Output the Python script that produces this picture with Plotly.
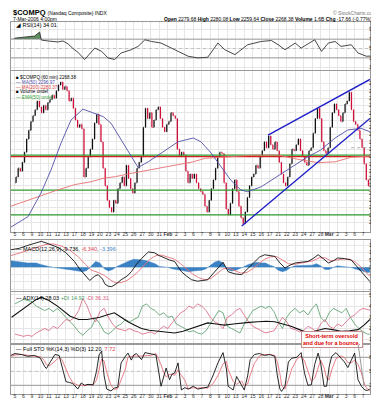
import plotly.graph_objects as go

# ---------------- data ----------------
day_labels = ["5", "6", "9", "10", "11", "12", "13", "17", "18", "19", "20", "23", "24", "25", "26",
              "27", "30", "31", "<b>Feb</b>", "2", "3", "6", "7", "8", "9", "10", "13", "14", "15",
              "16", "17", "21", "22", "23", "24", "27", "28", "<b>Mar</b>", "2", "3", "6", "7"]

first_open = 2262.0
# four intraday closes per session (60-min bars sampled)
closes = [
    2266, 2272, 2270, 2276,   2283, 2292, 2298, 2304,   2308, 2312, 2318, 2314,
    2310, 2315, 2312, 2317,   2319, 2322, 2320, 2325,   2329, 2331, 2326, 2328,
    2325, 2318, 2320, 2313,   2305, 2300, 2302, 2299,   2266, 2272, 2280, 2285,
    2292, 2303, 2309, 2302,   2290, 2272, 2260, 2250,   2245, 2242, 2250, 2248,
    2258, 2262, 2266, 2260,   2274, 2265, 2258, 2255,   2262, 2272, 2276, 2280,
    2300, 2313, 2306, 2310,   2300, 2305, 2312, 2314,   2306, 2300, 2297, 2302,
    2304, 2310, 2308, 2306,   2285, 2280, 2283, 2281,   2270, 2262, 2268, 2265,
    2268, 2262, 2258, 2256,   2254, 2246, 2242, 2250,   2258, 2264, 2272, 2280,
    2283, 2282, 2262, 2244,   2240, 2248, 2258, 2264,   2256, 2246, 2238, 2234,
    2242, 2252, 2260, 2266,   2268, 2274, 2272, 2280,   2284, 2290, 2286, 2294,
    2288, 2285, 2290, 2284,   2276, 2268, 2262, 2260,   2266, 2275, 2285, 2284,
    2288, 2292, 2284, 2280,   2276, 2274, 2284, 2286,   2296, 2306, 2313, 2306,
    2290, 2284, 2282, 2286,   2300, 2310, 2316, 2312,   2308, 2304, 2310, 2316,
    2318, 2324, 2312, 2304,   2302, 2298, 2292, 2286.04, 2275, 2264, 2260, 2268.38,
]

ma50_x = [-0.47, 1.53, 3.06, 4.24, 5.42, 6.6, 8.0, 8.95, 10.4, 11.3, 12.5, 13.7, 14.5, 15.7, 17.7,
          19.2, 21.0, 21.9, 23.1, 24.3, 25.4, 26.6, 27.4, 29.0, 30.6, 32.5, 34.2, 36.0, 37.7,
          39.2, 40.75, 41.8]
ma50_y = [2231.7, 2238.8, 2255.0, 2270.8, 2289.2, 2305.0, 2312.5, 2310.5, 2307.3, 2302.9, 2291.3,
          2279.7, 2272.5, 2276.4, 2284.5, 2290.1, 2292.7, 2290.1, 2282.4, 2273.0, 2263.9, 2257.1,
          2255.9, 2259.3, 2265.3, 2273.0, 2278.8, 2284.5, 2292.7, 2298.2, 2299.3, 2296.97]

ma200_x = [-0.47, 1.53, 3.06, 5.06, 7.07, 8.95, 10.4, 11.8, 13.7, 15.7, 17.7, 19.6, 21.0, 22.4,
           24.3, 26.3, 28.3, 31.0, 33.3, 35.7, 37.7, 39.6, 41.2, 41.8]
ma200_y = [2246.0, 2250.2, 2253.1, 2257.2, 2260.8, 2262.7, 2265.1, 2266.2, 2268.5, 2270.8, 2273.0,
           2275.3, 2276.4, 2278.8, 2279.5, 2280.3, 2281.0, 2281.0, 2278.1, 2275.8, 2276.4, 2279.5,
           2280.3, 2280.37]

support_green = [2281, 2257, 2240]
support_red = 2280
prev_close = 2286.04
upper_channel_x = [29.8, 41.8]
upper_channel_y = [2294.7, 2332.8]
lower_channel_x = [26.7, 41.8]
lower_channel_y = [2232.4, 2306.1]

rsi_x = [-0.04, 0.75, 1.53, 2.32, 2.9, 3.1, 3.9, 5.06, 5.65, 6.24, 6.83, 7.42, 8.2, 8.8, 9.4, 10.2,
         10.95, 11.74, 12.5, 13.7, 14.5, 15.3, 16.06, 17.2, 18.4, 19.2, 20.4, 21.55, 22.7, 23.9,
         24.7, 25.9, 26.7, 27.4, 29.0, 30.2, 31.0, 31.8, 33.0, 33.7, 35.3, 36.1, 36.9, 37.7, 38.4,
         39.6, 40.4, 41.4, 41.8]
rsi_y = [72, 73, 74, 76.5, 85, 68, 66, 64, 66, 60, 50, 42, 26.5, 40, 51, 44, 30, 26.5, 40.5, 47.5,
         54.5, 68.6, 65, 61.6, 51, 44, 33.5, 30, 31.4, 61.6, 47.5, 37, 47.5, 58, 65, 67, 58, 47.5,
         61.6, 51, 68.6, 44, 61.6, 65, 54.5, 58, 40.5, 33.5, 34.01]

macd_x = [-0.5, 0.5, 1.5, 2.5, 3.1, 4, 5.1, 6, 7, 7.6, 8.2, 8.8, 9.4, 9.8, 10.3, 10.6, 11.0, 11.4,
          12.0, 12.5, 13.2, 13.7, 14.3, 14.9, 15.7, 16.4, 17.0, 17.6, 18.2, 18.8, 19.6, 20.2, 20.8,
          21.5, 22.0, 22.7, 23.3, 23.9, 24.5, 25.1, 25.9, 26.7, 27.4, 28.2, 28.8, 29.4, 30.0, 30.6,
          31.2, 31.8, 32.4, 33.0, 33.7, 34.5, 35.1, 35.7, 36.3, 36.9, 37.5, 38.0, 38.8, 39.6, 40.2,
          40.8, 41.3, 41.8]
macd_y = [12, 13, 15, 17, 17.8, 16, 13.5, 10, 4, -1, -5, -9, -6, -5, -8, -11.5, -13, -13.2, -11,
          -8.5, -6, -3, 2, 6, 10.5, 10, 8, 6.4, 5, 4, -3, -6, -8.5, -9.5, -9, -8.5, -4.5, -0.5, 3.5,
          -3, -4.5, -5, -1, 4, 7, 8.6, 8, 7.5, 3, -0.5, 1.5, 3, 3.5, 4, 6, 8.6, 6, 3, 4.5, 6.4, 6, 5,
          1, -3, -7, -9.736]
signal_x = [-0.5, 0.5, 1.5, 2.5, 3.5, 4.5, 5.5, 6.5, 7.5, 8.3, 9.0, 9.8, 10.5, 11.2, 11.8, 12.5,
            13.2, 13.8, 14.5, 15.2, 15.9, 16.6, 17.3, 18.0, 18.8, 19.5, 20.2, 20.9, 21.6, 22.4, 23.1,
            23.8, 24.5, 25.2, 25.9, 26.6, 27.3, 28.0, 28.7, 29.4, 30.1, 30.8, 31.5, 32.2, 32.9,
            33.6, 34.4, 35.1, 35.8, 36.5, 37.2, 37.9, 38.6, 39.4, 40.1, 40.7, 41.3, 41.8]
signal_y = [8, 9.5, 11.5, 13.5, 15.5, 16, 14.5, 11.5, 7, 2, -2, -3.5, -5.5, -8.5, -10.5, -10.5, -9,
            -6.5, -3, 1.5, 5.5, 8, 8.3, 7, 5.5, 2.5, -1, -4.5, -7, -8.5, -7.5, -4.5, -1, -0.5, -2.5,
            -4, -3.5, -1, 2.5, 5.5, 7.2, 7.4, 5, 2.5, 2, 2.8, 3.5, 4.5, 6.5, 6.5, 4.5, 5, 5.6, 5.6,
            3.5, 0.5, -3, -6.34]
hist_vals = [4.5, 4, 3.5, 3.5, 3, 3, 3, 2, 1, 0.5, 0, -0.5, -1, -1.5, -1.5, -2.5, -2.5, -3, -2, 1,
             4, 3, -1, -2.5, -1.5, 0.5, 2, 3.5, 4.5, 5.5, 5.5, 5, 4.5, 3.5, 2.5, 0.5, 0.5, 0, -1,
             -1.5, -2.5, -3, -3, -2.5, -2.5, -2, -1, 1, 3.5, 4.5, 3, -1.5, -2.5, -2, -1, 0.5, 2, 3,
             3.5, 3, 3, 1.5, 0.5, -2, -3, -2, 0, 1, 1, 1, 1.5, 1.5, 2.5, 1, -1.5, -1.5, 0, 1, 0.5,
             0.5, 0, -1, -2, -3, -3.5, -3.396]

adx_x = [-0.4, 0.5, 1.5, 2.5, 3.1, 4.0, 5.0, 5.8, 6.5, 7.5, 8.5, 9.2, 10.0, 10.8, 11.7, 12.5, 13.3,
         14.1, 14.9, 15.8, 16.8, 17.8, 18.8, 19.8, 20.8, 21.8, 22.7, 23.7, 24.7, 25.7, 26.7, 27.6,
         28.6, 29.6, 30.6, 31.5, 32.5, 33.5, 34.5, 35.5, 36.5, 37.4, 38.4, 39.4, 40.4, 41.1, 41.8]
adx_y = [30, 35, 41, 46, 48, 45, 40, 35, 31, 28, 28, 29, 30, 32, 34, 30, 26, 23, 20, 18.5, 17.5, 17,
         16, 17.5, 20, 23, 25, 24, 23, 24, 25, 25.5, 26, 26.5, 26, 24, 22, 19, 16, 18, 20, 19, 17.5,
         18, 19, 23, 28.03]
pdi_y = [42, 44, 46, 45, 44, 40, 38, 36, 38, 35, 38, 34, 30, 26, 22, 17, 14, 18, 21, 29, 24, 17,
         15, 18, 22, 24, 28, 26, 28, 30, 40, 42, 38, 36, 32, 34, 30, 31, 24, 22, 20, 17, 18, 16, 15,
         18, 24, 30, 36, 34, 22, 20, 18, 16, 24, 30, 36, 38, 40, 38, 40, 35, 26, 20, 30, 35, 38, 34,
         36, 32, 38, 42, 30, 26, 34, 38, 36, 34, 38, 30, 24, 20, 17, 15, 14.92]
mdi_y = [15, 14, 13, 14, 13, 16, 18, 20, 18, 22, 20, 24, 28, 27, 30, 36, 47, 40, 30, 26, 35, 38, 30,
         24, 20, 19, 18, 20, 18, 17, 15, 16, 17, 15, 19, 22, 20, 25, 30, 34, 36, 40, 38, 42, 40, 36,
         30, 26, 24, 20, 30, 32, 36, 38, 32, 26, 22, 20, 18, 16, 17, 18, 24, 30, 26, 20, 19, 17, 18,
         22, 20, 17, 24, 28, 22, 20, 24, 22, 26, 30, 32, 36, 38, 37, 36.31]

sto_x = [-0.5, 0, 0.75, 1.5, 2.3, 3.0, 3.5, 3.7, 4.1, 4.7, 5.2, 5.5, 6.0, 6.4, 6.8, 7.4, 7.8, 8.2,
         8.6, 9.2, 9.6, 9.9, 10.2, 10.5, 10.8, 11.3, 11.7, 12.1, 12.5, 13.0, 13.3, 13.7, 14.0, 14.3,
         14.9, 15.3, 16.0, 16.6, 17.2, 17.5, 17.8, 18.2, 18.5, 18.8, 19.2, 19.6, 20.0, 20.4, 21.0,
         21.5, 22.0, 22.7, 23.3, 23.9, 24.5, 24.9, 25.1, 25.7, 26.1, 26.4, 26.7, 27.0, 27.4, 27.7,
         28.2, 28.8, 29.4, 30.0, 30.6, 30.9, 31.2, 31.4, 31.8, 32.2, 32.6, 33.2, 33.7, 34.1, 34.5,
         34.9, 35.3, 35.7, 36.0, 36.4, 36.7, 37.0, 37.3, 37.8, 38.4, 38.8, 39.2, 39.6, 40.0, 40.4,
         40.8, 41.2, 41.5, 41.8]
sto_k = [84, 88, 86, 82, 84, 78, 60, 56, 68, 86, 84, 62, 28, 26, 24, 12, 25, 20, 22, 21, 50, 85, 93,
         40, 12, 8, 14, 16, 68, 82, 89, 74, 85, 88, 75, 90, 88, 85, 18, 40, 57, 32, 44, 46, 68, 10,
         15, 12, 18, 12, 14, 16, 40, 68, 90, 55, 18, 10, 39, 30, 18, 10, 40, 75, 86, 88, 84, 86, 82,
         40, 12, 7, 18, 70, 78, 80, 90, 46, 20, 21, 65, 89, 68, 18, 18, 60, 82, 90, 78, 70, 58, 75,
         89, 32, 18, 10, 9, 12.2]
sto_d = [82, 85, 86, 84, 83, 81, 72, 64, 62, 72, 80, 76, 56, 38, 26, 20, 20, 19, 22, 21, 31, 52, 76,
         72, 48, 20, 11, 13, 33, 55, 80, 82, 83, 82, 83, 84, 84, 88, 64, 48, 38, 43, 44, 41, 53, 41,
         31, 12, 15, 14, 15, 14, 23, 41, 66, 71, 54, 28, 22, 26, 29, 19, 23, 42, 67, 83, 86, 86, 84,
         69, 45, 20, 12, 32, 55, 76, 83, 72, 52, 29, 35, 58, 74, 58, 35, 32, 53, 77, 83, 79, 69, 68,
         74, 65, 46, 20, 12, 7.72]

# ---------------- derived plotting inputs ----------------
bar_x = [d + (k + 0.5) / 4 for d in range(42) for k in range(4)]
opens = [first_open] + closes[:-1]
highs = [max(o, c) for o, c in zip(opens, closes)]
lows = [min(o, c) for o, c in zip(opens, closes)]
hist_x = [i / 2 - 0.5 for i in range(85)] + [41.8]
di_x = [i / 2 for i in range(84)] + [41.8]

FONT = "Liberation Sans"
W, H = 379, 400
L, R = 3, 17
PW = W - L - R
XR = [-0.47, 41.81]


def dom(top, bottom):
    return [1 - bottom / H, 1 - top / H]


fig = go.Figure()

# RSI
fig.add_trace(go.Scatter(x=[XR[0], XR[1]], y=[70, 70], mode="lines", line=dict(color="#888", width=0.8),
                         xaxis="x", yaxis="y", hoverinfo="skip"))
fig.add_trace(go.Scatter(x=rsi_x, y=[max(v, 70) for v in rsi_y], mode="lines", line=dict(width=0),
                         fill="tonexty", fillcolor="#5e8f5e", xaxis="x", yaxis="y", hoverinfo="skip"))
fig.add_trace(go.Scatter(x=[XR[0], XR[1]], y=[30, 30], mode="lines", line=dict(color="#888", width=0.8),
                         xaxis="x", yaxis="y"))
fig.add_trace(go.Scatter(x=[XR[0], XR[1]], y=[50, 50], mode="lines",
                         line=dict(color="#aaa", width=0.6, dash="dot"), xaxis="x", yaxis="y"))
fig.add_trace(go.Scatter(x=rsi_x, y=rsi_y, mode="lines", line=dict(color="#333", width=0.9),
                         xaxis="x", yaxis="y"))

# Price panel
for lv in support_green:
    fig.add_trace(go.Scatter(x=XR, y=[lv, lv], mode="lines", line=dict(color="#2e9a2e", width=1.3),
                             xaxis="x2", yaxis="y2"))
fig.add_trace(go.Scatter(x=XR, y=[support_red, support_red], mode="lines",
                         line=dict(color="#d42020", width=1.3), xaxis="x2", yaxis="y2"))
fig.add_trace(go.Scatter(x=[39.6, XR[1]], y=[prev_close, prev_close], mode="lines",
                         line=dict(color="#999", width=0.8, dash="dot"), xaxis="x2", yaxis="y2"))
fig.add_trace(go.Scatter(x=ma200_x, y=ma200_y, mode="lines", line=dict(color="#e87070", width=0.9),
                         xaxis="x2", yaxis="y2"))
fig.add_trace(go.Scatter(x=ma50_x, y=ma50_y, mode="lines", line=dict(color="#5050a8", width=0.9),
                         xaxis="x2", yaxis="y2"))
fig.add_trace(go.Ohlc(x=bar_x, open=opens, high=highs, low=lows, close=closes,
                      increasing=dict(line=dict(color="#111", width=1.3)),
                      decreasing=dict(line=dict(color="#d0103a", width=1.3)),
                      tickwidth=0.25, xaxis="x2", yaxis="y2"))
fig.add_trace(go.Scatter(x=upper_channel_x, y=upper_channel_y, mode="lines",
                         line=dict(color="#2020c8", width=1.4), xaxis="x2", yaxis="y2"))
fig.add_trace(go.Scatter(x=lower_channel_x, y=lower_channel_y, mode="lines",
                         line=dict(color="#2020c8", width=1.4), xaxis="x2", yaxis="y2"))

# MACD
fig.add_trace(go.Scatter(x=hist_x, y=hist_vals, mode="lines", line=dict(color="#3b82c4", width=0.5),
                         fill="tozeroy", fillcolor="#3b82c4", xaxis="x3", yaxis="y3"))
fig.add_trace(go.Scatter(x=signal_x, y=signal_y, mode="lines", line=dict(color="#e8707a", width=0.9),
                         xaxis="x3", yaxis="y3"))
fig.add_trace(go.Scatter(x=macd_x, y=macd_y, mode="lines", line=dict(color="#111", width=0.9),
                         xaxis="x3", yaxis="y3"))

# ADX
fig.add_trace(go.Scatter(x=di_x, y=pdi_y, mode="lines", line=dict(color="#4f9a66", width=0.8),
                         xaxis="x4", yaxis="y4"))
fig.add_trace(go.Scatter(x=di_x, y=mdi_y, mode="lines", line=dict(color="#d8607c", width=0.8),
                         xaxis="x4", yaxis="y4"))
fig.add_trace(go.Scatter(x=adx_x, y=adx_y, mode="lines", line=dict(color="#111", width=1.1),
                         xaxis="x4", yaxis="y4"))

# Stochastics
for lv in (80, 20):
    fig.add_trace(go.Scatter(x=XR, y=[lv, lv], mode="lines", line=dict(color="#888", width=0.8),
                             xaxis="x5", yaxis="y5"))
fig.add_trace(go.Scatter(x=XR, y=[50, 50], mode="lines", line=dict(color="#aaa", width=0.6, dash="dot"),
                         xaxis="x5", yaxis="y5"))
fig.add_trace(go.Scatter(x=sto_x, y=sto_d, mode="lines", line=dict(color="#e8707a", width=0.9),
                         xaxis="x5", yaxis="y5"))
fig.add_trace(go.Scatter(x=sto_x, y=sto_k, mode="lines", line=dict(color="#111", width=0.9),
                         xaxis="x5", yaxis="y5"))

# ---------------- axes ----------------
panels = {
    "": (dom(14, 62), [4.3, 106.4], [10, 30, 50, 70, 90], False),
    "2": (dom(63, 224), [2228.3, 2338.6], list(range(2235, 2331, 5)), True),
    "3": (dom(232, 283), [-16.2, 18.7], [-15, -10, -5, 0, 5, 10, 15], False),
    "4": (dom(284, 335), [7.05, 52.6], [10, 20, 30, 40, 50], False),
    "5": (dom(337, 386), [1.4, 106.3], [20, 50, 80], True),
}
layout_axes = {}
for key, (domain, yr, yt, show_x) in panels.items():
    layout_axes["xaxis" + key] = dict(
        domain=[0, 1], range=XR, anchor="y" + key, tickvals=list(range(42)), ticktext=day_labels,
        showticklabels=show_x, ticks="", ticklen=0, ticklabelstandoff=-3, tickangle=0,
        tickfont=dict(size=5, color="#333", family=FONT),
        showgrid=True, gridcolor="#e6e6e6", gridwidth=0.6, showline=True, mirror=True,
        linecolor="#999", linewidth=0.8, zeroline=False, fixedrange=True,
        rangeslider=dict(visible=False))
    layout_axes["yaxis" + key] = dict(
        domain=domain, range=yr, anchor="x" + key, side="right", tickvals=yt, ticks="", ticklen=0,
        tickfont=dict(size=5, color="#333", family=FONT), showgrid=True, gridcolor="#e6e6e6",
        gridwidth=0.6, showline=True, mirror=True, linecolor="#999", linewidth=0.8, zeroline=False,
        fixedrange=True, ticklabelstandoff=-3)


def px_x(px):
    return (px - L) / PW


def ann(px, py, text, size=5.5, color="#000", anchor="left", **kw):
    d = dict(xref="paper", yref="paper", x=px_x(px), y=1 - py / H, text=text, showarrow=False,
             xanchor=anchor, yanchor="middle", font=dict(size=size, color=color, family=FONT))
    d.update(kw)
    return d


annotations = [
    ann(3, 5, "<b>$COMPQ</b> <span style='font-size:5px'>(Nasdaq Composite) INDX</span>", size=7.5),
    ann(3, 11, "7-Mar-2006 4:00pm", size=5),
    ann(370, 5, "© StockCharts.com", size=5, color="#777", anchor="right"),
    ann(370, 11, "<b>Open</b> 2279.68 <b>High</b> 2280.08 <b>Low</b> 2259.64 <b>Close</b> 2268.38 "
                 "<b>Volume</b> 1.6B <b>Chg</b> -17.66 (-0.77%) <span style='color:#d00'>▾</span>",
        size=5, anchor="right"),
    ann(6, 17, "◢ RSI(14) 34.01", size=5.5),
    ann(6, 69, "<span style='color:#000'>■</span> $COMPQ (60 min) 2268.38", size=4.6),
    ann(6, 74, "<span style='color:#5050a8'>— MA(50) 2296.97</span>", size=4.6),
    ann(6, 79, "<span style='color:#d84040'>— MA(200) 2280.37</span>", size=4.6),
    ann(6, 84, "■ Volume undef", size=4.6),
    ann(6, 89, "<span style='color:#2e9a2e'>— EMA(50) undef</span>", size=4.6),
    ann(6, 241, "— MACD(12,26,9) -9.736, <span style='color:#d84050'>-6.340</span>, "
                "<span style='color:#3b82c4'>-3.396</span>", size=5.5),
    ann(6, 290, "— ADX(14) 28.03 <span style='color:#4f9a66'>+DI 14.92</span> "
                "<span style='color:#d8607c'>-DI 36.31</span>", size=5.5),
    ann(6, 341, "— Full STO %K(14,3) %D(3) 12.20, <span style='color:#d84050'>7.72</span>", size=5.5),
    ann(324, 331, "<b>Short-term oversold<br>and due for a bounce.</b>", size=5.5, color="#e00000",
        anchor="center", bgcolor="white", bordercolor="#c89090", borderwidth=1, borderpad=1),
    dict(xref="x5", yref="y5", x=41.1, y=20, ax=-6, ay=-42, axref="pixel", ayref="pixel", text="",
         showarrow=True, arrowhead=0, arrowwidth=1, arrowcolor="#999"),
]

fig.update_layout(
    width=W, height=H, margin=dict(l=L, r=R, t=0, b=0), template="none",
    paper_bgcolor="white", plot_bgcolor="white", showlegend=False,
    annotations=annotations, **layout_axes)

fig.write_html("out.html")
